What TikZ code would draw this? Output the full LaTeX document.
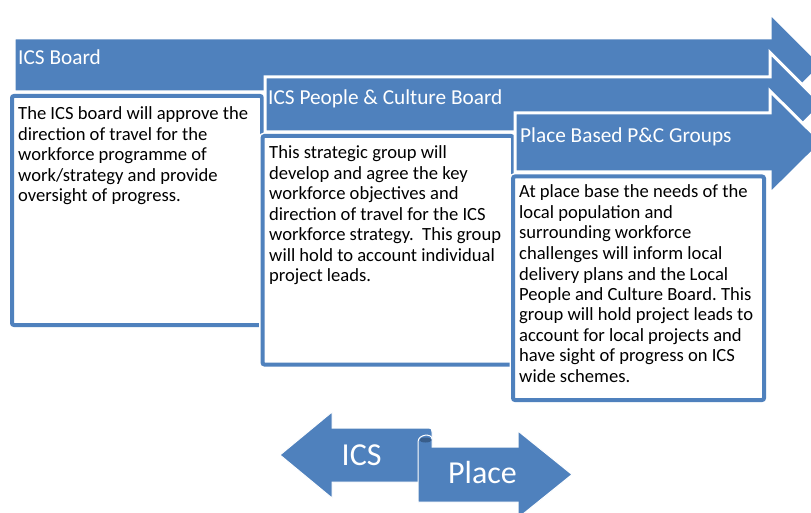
\documentclass[tikz,border=0pt]{standalone}
\usepackage{fontspec}
\setmainfont{Carlito}
\definecolor{accent}{HTML}{4F81BD}
\definecolor{accentdark}{HTML}{385D8A}
\frenchspacing
\begin{document}
\begin{tikzpicture}[x=1pt,y=-1pt,
  band/.style={fill=accent, draw=white, line width=3pt},
  frameouter/.style={draw=white, line width=7pt, rounded corners=2pt},
  frame/.style={fill=white, draw=accent, line width=4pt, rounded corners=2pt},
  title/.style={anchor=base west, inner sep=0pt, text=white, font=\fontsize{21.3}{25}\selectfont},
  body/.style={anchor=base west, inner sep=0pt, font=\fontsize{18.6}{20.5}\selectfont},
  bigarrow/.style={fill=accent, draw=white, line width=1pt},
  bigtext/.style={anchor=base west, inner sep=0pt, text=white, font=\fontsize{32}{36}\selectfont}]
\useasboundingbox (0,0) rectangle (811,513);
\clip (0,0) rectangle (811,513);
% arrow 1
\draw[band] (14,38) -- (770,38) -- (770,13) -- (822,65) -- (770,117) -- (770,92) -- (14,92) -- cycle;
\node[title] (t1) at (18,65) {ICS Board};
\draw[frameouter] (12,96) rectangle (262,325);
\draw[frame] (12,96) rectangle (262,325);
\node[body] (b1) at (18,120) {\parbox[t]{240pt}{\raggedright The ICS board will approve the\\direction of travel for the\\workforce programme of\\work/strategy and provide\\oversight of progress.}};
% arrow 2
\draw[band] (265,77) -- (770,77) -- (770,52.5) -- (822,104.5) -- (770,156.5) -- (770,132) -- (265,132) -- cycle;
\node[title] (t2) at (268,105) {ICS People \& Culture Board};
\draw[frameouter] (262.5,136) rectangle (513,364.5);
\draw[frame] (262.5,136) rectangle (513,364.5);
\node[body] (b2) at (269,159) {\parbox[t]{240pt}{\raggedright This strategic group will\\develop and agree the key\\workforce objectives and\\direction of travel for the ICS\\workforce strategy.\ \ This group\\will hold to account individual\\project leads.}};
% arrow 3
\draw[band] (515,113) -- (770,113) -- (770,91) -- (822,142.5) -- (770,194) -- (770,172) -- (515,172) -- cycle;
\node[title] (t3) at (520,143) {Place Based P\&C Groups};
\draw[frameouter] (513,176.5) rectangle (764,400);
\draw[frame] (513,176.5) rectangle (764,400);
\node[body] (b3) at (519,198) {\parbox[t]{245pt}{\raggedright At place base the needs of the\\local population and\\surrounding workforce\\challenges will inform local\\delivery plans and the Local\\People and Culture Board. This\\group will hold project leads to\\account for local projects and\\have sight of progress on ICS\\wide schemes.}};
% bottom arrows
\draw[bigarrow] (280,455) -- (332,412) -- (332,428) -- (428,428) .. controls (432,428) and (432,430) .. (432,432) -- (432,482) -- (332,482) -- (332,498) -- cycle;
\draw[bigarrow] (418,502) -- (418,442) .. controls (418,434) and (432,433) .. (432,439) -- (432,447) -- (518,447) -- (518,431) -- (572,474.5) -- (518,518) -- (518,502) -- cycle;
\fill[accentdark] (425.5,440) ellipse [x radius=6, y radius=2.5];
\node[bigtext] (ics) at (341.5,465) {ICS};
\node[bigtext] (place) at (448,483) {Place};
\end{tikzpicture}
\end{document}
